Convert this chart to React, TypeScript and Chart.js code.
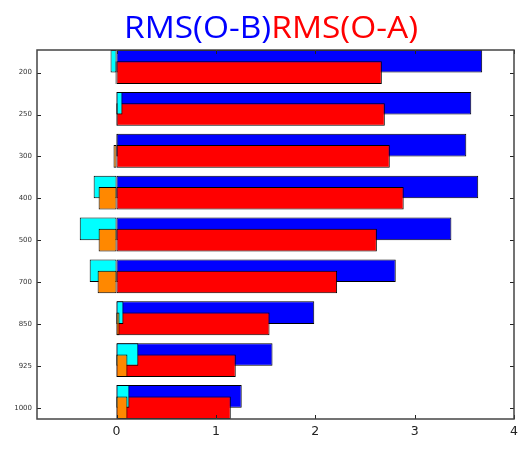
import React, { useEffect, useRef } from "react";
import { Chart, registerables } from "chart.js";

Chart.register(...registerables);

const levels = ["200", "250", "300", "400", "500", "700", "850", "925", "1000"];
const rmsOB = [3.68, 3.57, 3.52, 3.64, 3.37, 2.81, 1.99, 1.57, 1.26];
const rmsOA = [2.67, 2.7, 2.75, 2.89, 2.62, 2.22, 1.54, 1.2, 1.15];
const biasOB = [-0.06, 0.06, 0.01, -0.23, -0.37, -0.27, 0.07, 0.22, 0.13];
const biasOA = [-0.01, 0.01, -0.03, -0.18, -0.18, -0.19, 0.03, 0.11, 0.11];
const spacer = [0, 0, 0, 0, 0, 0, 0, 0, 0];
const xTicks = [0, 1, 2, 3, 4];
const titleParts = ["RMS(O-B)", "RMS(O-A)"];
const titleColors = ["#0000ff", "#ff0000"];

const toPoints = (vals: number[]) => vals.map((v, i) => ({ x: v, y: i }));

const titlePlugin = {
  id: "twoColorTitle",
  afterDraw(chart: any) {
    const ctx = chart.ctx;
    ctx.save();
    ctx.font = '31px "Open Sans"';
    ctx.textBaseline = "alphabetic";
    const w1 = ctx.measureText(titleParts[0]).width;
    const w2 = ctx.measureText(titleParts[1]).width;
    const target = 294;
    const sx = target / (w1 + w2);
    ctx.translate(271 - target / 2, 37.5);
    ctx.scale(sx, 1);
    ctx.fillStyle = titleColors[0];
    ctx.fillText(titleParts[0], 0, 0);
    ctx.fillStyle = titleColors[1];
    ctx.fillText(titleParts[1], w1, 0);
    ctx.restore();
  },
};

const framePlugin = {
  id: "frame",
  afterDraw(chart: any) {
    const { ctx, chartArea: a, scales } = chart;
    ctx.save();
    ctx.strokeStyle = "#222";
    ctx.lineWidth = 1;
    const tl = 4;
    ctx.beginPath();
    for (const t of scales.x.ticks) {
      const px = Math.round(scales.x.getPixelForValue(t.value)) + 0.5;
      ctx.moveTo(px, a.bottom);
      ctx.lineTo(px, a.bottom - tl);
      ctx.moveTo(px, a.top);
      ctx.lineTo(px, a.top + tl);
    }
    for (const t of scales.y.ticks) {
      const py = Math.round(scales.y.getPixelForValue(t.value)) + 0.5;
      ctx.moveTo(a.left, py);
      ctx.lineTo(a.left + tl, py);
      ctx.moveTo(a.right, py);
      ctx.lineTo(a.right - tl, py);
    }
    ctx.stroke();
    ctx.strokeStyle = "#444";
    ctx.lineWidth = 1.5;
    ctx.strokeRect(a.left, a.top, a.right - a.left, a.bottom - a.top);
    ctx.restore();
  },
};

export default function App() {
  const ref = useRef<HTMLCanvasElement | null>(null);

  useEffect(() => {
    document.body.style.margin = "0";
    const canvas = ref.current;
    if (!canvas) return;
    const common = {
      borderColor: "#000",
      borderWidth: 1,
      borderSkipped: false,
      categoryPercentage: 0.81,
      barPercentage: 2.0,
    };
    const chart = new Chart(canvas, {
      type: "bar",
      data: {
        datasets: [
          { ...common, label: "spacer-a", data: toPoints(spacer), stack: "ob", backgroundColor: "rgba(0,0,0,0)", borderWidth: 0 },
          { ...common, label: "Bias(O-A)", data: toPoints(biasOA), stack: "oa", backgroundColor: "#ff8800" },
          { ...common, label: "Bias(O-B)", data: toPoints(biasOB), stack: "ob", backgroundColor: "#00ffff" },
          { ...common, label: "RMS(O-A)", data: toPoints(rmsOA), stack: "oa", backgroundColor: "#ff0000" },
          { ...common, label: "RMS(O-B)", data: toPoints(rmsOB), stack: "ob", backgroundColor: "#0000ff" },
          { ...common, label: "spacer-b", data: toPoints(spacer), stack: "z", backgroundColor: "rgba(0,0,0,0)", borderWidth: 0 },
        ] as any,
      },
      options: {
        indexAxis: "y",
        animation: false,
        responsive: false,
        devicePixelRatio: 1,
        layout: { padding: { top: 50, right: 5, left: 0, bottom: 0 } },
        plugins: {
          legend: { display: false },
          title: { display: false },
          tooltip: { enabled: false },
        },
        scales: {
          x: {
            type: "linear",
            stacked: false,
            offset: false,
            min: -0.8,
            max: 4,
            grid: { display: false, drawTicks: false },
            border: { display: false },
            afterBuildTicks: (scale: any) => {
              scale.ticks = xTicks.map((v) => ({ value: v }));
            },
            afterFit: (scale: any) => {
              scale.height = 42;
              scale.paddingRight = 0;
              scale.paddingLeft = 0;
            },
            ticks: {
              padding: 5,
              color: "#222",
              font: { family: "DejaVu Sans", size: 12.5 },
              callback: (v: any) => String(v),
            },
          },
          y: {
            type: "linear",
            reverse: true,
            offset: false,
            min: -0.54,
            max: 8.27,
            grid: { display: false, drawTicks: false, offset: false },
            border: { display: false },
            afterBuildTicks: (scale: any) => {
              scale.ticks = levels.map((_, i) => ({ value: i }));
            },
            afterFit: (scale: any) => {
              scale.width = 37;
              scale.paddingTop = 0;
              scale.paddingBottom = 0;
            },
            ticks: {
              padding: 5,
              color: "#333",
              font: { family: "DejaVu Sans", size: 7 },
              callback: (v: any) => levels[v] ?? "",
            },
          },
        },
      } as any,
      plugins: [titlePlugin, framePlugin],
    });
    return () => chart.destroy();
  }, []);

  return (
    <div style={{ width: 519, height: 461 }}>
      <canvas ref={ref} width={519} height={461} />
    </div>
  );
}
